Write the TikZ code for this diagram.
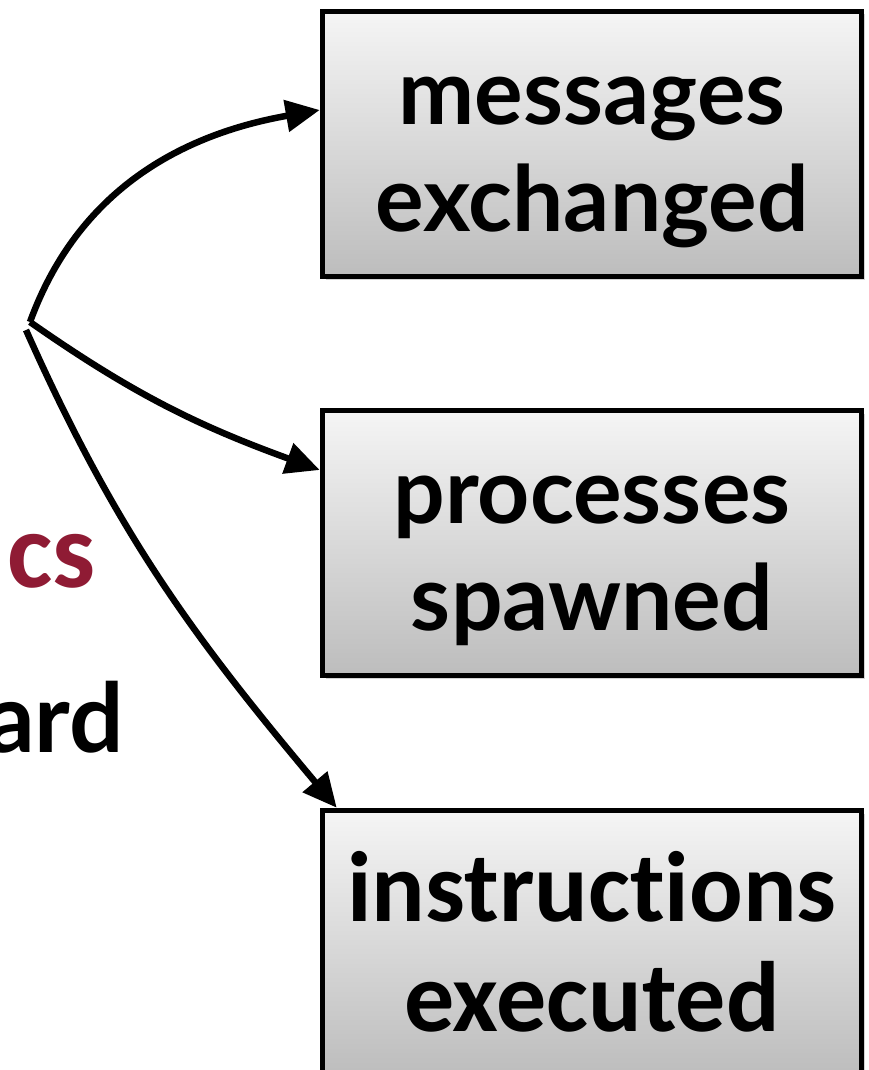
\documentclass[tikz,border=0pt]{standalone}
\usepackage{fontspec}
\setmainfont{Lato}
\newfontfamily\calfont[Ligatures={NoCommon,NoRare,NoDiscretionary}]{Carlito}
\usetikzlibrary{arrows.meta,shadows,calc}
\definecolor{maroon}{RGB}{143,27,52}
% two centred lines, with struts that set where the baselines fall in the box
\newcommand\boxlines[2]{\rule{0pt}{100pt}#1\\#2\rule[-33pt]{0pt}{33pt}}
\begin{document}
\begin{tikzpicture}[x=1pt,y=-1pt,
  metricbox/.style={draw=black, line width=5.5pt, minimum width=539pt, minimum height=265pt,
    top color=white!96!black, bottom color=black!26,
    drop shadow={opacity=0.35, shadow xshift=3pt, shadow yshift=-3pt},
    align=center, inner sep=0pt, font=\bfseries\fontsize{91}{107}\selectfont},
  link/.style={line width=6.5pt, -{Triangle[length=34pt,width=31pt]}},
  sidetext/.style={inner sep=0pt, anchor=base east}]
  \useasboundingbox (0,0) rectangle (869,1070);

  % partial titles cut at the left edge
  \node[sidetext, text=maroon, font=\calfont\bfseries\fontsize{108}{120}\selectfont] (cs) at (96,587) {cs};
  \node[sidetext, font=\bfseries\fontsize{96}{107}\selectfont] (ard) at (124,752) {ard};

  % measured quantities
  \node[metricbox] (msg) at (592,144) {\boxlines{messages}{exchanged}};
  \node[metricbox] (proc) at (592,543) {\boxlines{processes}{spawned}};
  \node[metricbox, font=\calfont\bfseries\fontsize{100}{110}\selectfont] (instr) at (592,943) {\boxlines{instructions}{executed}};

  % fan-out from a common origin
  \coordinate (o) at (30,322);
  \coordinate (o2) at (26,330);
  \draw[link] (o) to[out=70,in=190] ([yshift=34pt]msg.west);
  \draw[link] (o) to[out=-35,in=160] ([yshift=73pt]proc.west);
  \draw[link] (o2) to[out=-66,in=130] ([xshift=17pt]instr.north west);
\end{tikzpicture}
\end{document}
